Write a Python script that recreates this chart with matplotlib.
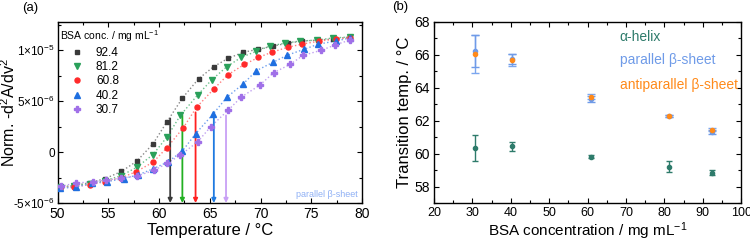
import matplotlib
matplotlib.use('Agg')
import matplotlib.pyplot as plt
from matplotlib.ticker import MultipleLocator, FixedLocator

plt.rcParams['font.family'] = ['Liberation Sans', 'DejaVu Sans']
plt.rcParams['mathtext.fontset'] = 'custom'
plt.rcParams['mathtext.rm'] = 'Liberation Sans'
plt.rcParams['mathtext.it'] = 'Liberation Sans:italic'
plt.rcParams['mathtext.default'] = 'regular'

# ---- panel (a): normalised 2nd derivative vs temperature (values in 1e-6) ----
conc_labels = ['92.4', '81.2', '60.8', '40.2', '30.7']

t_924 = [50.2, 51.6, 53.2, 54.7, 56.3, 57.8, 59.4, 60.8, 62.3, 63.9, 65.4, 66.8, 68.3, 69.8, 71.2, 72.7, 74.1, 75.7, 77.1, 78.8]
d_924 = [-3.5, -3.3, -3.0, -2.6, -1.9, -0.9, 0.8, 3.0, 5.3, 7.2, 8.4, 9.2, 9.8, 10.1, 10.4, 10.7, 10.9, 11.0, 11.1, 11.3]

t_812 = [50.2, 51.6, 53.2, 54.7, 56.3, 57.8, 59.4, 60.8, 62.1, 63.8, 65.2, 66.7, 68.1, 69.6, 70.9, 72.4, 73.9, 75.6, 77.1, 78.8]
d_812 = [-3.4, -3.3, -3.1, -2.8, -2.3, -1.5, -0.25, 1.5, 3.6, 5.6, 7.1, 8.4, 9.3, 9.9, 10.4, 10.7, 10.9, 11.0, 11.2, 11.3]

t_608 = [50.2, 51.6, 53.2, 54.7, 56.3, 57.7, 59.4, 60.8, 62.4, 63.7, 65.4, 66.8, 68.4, 69.8, 71.1, 72.7, 74.1, 75.8, 77.4, 78.8]
d_608 = [-3.5, -3.4, -3.2, -2.9, -2.5, -1.95, -1.0, 0.45, 2.4, 4.4, 6.2, 7.6, 8.6, 9.3, 9.8, 10.3, 10.6, 10.9, 11.1, 11.2]

t_402 = [50.2, 51.8, 53.4, 54.9, 56.5, 57.9, 59.4, 60.9, 62.3, 63.6, 65.3, 66.7, 68.3, 69.6, 71.2, 72.6, 74.3, 75.7, 77.4, 78.8]
d_402 = [-3.55, -3.45, -3.05, -2.9, -2.6, -2.25, -1.65, -0.95, 0.1, 1.8, 3.7, 5.4, 6.7, 8.0, 8.8, 9.5, 10.1, 10.6, 10.9, 11.2]

t_307 = [50.3, 51.8, 53.5, 54.8, 56.3, 57.8, 59.5, 60.8, 62.1, 63.8, 65.1, 66.8, 68.1, 69.9, 71.3, 72.9, 74.2, 76.0, 77.3, 78.8]
d_307 = [-3.35, -3.05, -2.9, -2.75, -2.55, -2.35, -1.8, -1.1, -0.3, 1.0, 2.5, 4.1, 5.4, 6.55, 7.8, 8.6, 9.5, 10.0, 10.5, 11.0]

# transition temperatures (arrows) and arrow start heights (1e-6)
tm_a = [61.1, 62.3, 63.6, 65.4, 66.6]
tm_top = [3.3, 3.6, 3.9, 3.8, 3.6]

# ---- panel (b): transition temperature vs BSA concentration ----
bsa = [30.7, 40.2, 60.8, 81.2, 92.4]
helix = [60.33, 60.43, 59.82, 59.21, 58.85]
helix_err = [0.78, 0.27, 0.08, 0.31, 0.15]
par = [66.22, 65.75, 63.32, 62.29, 61.33]
par_err = [0.95, 0.30, 0.20, 0.08, 0.12]
anti = [66.02, 65.68, 63.45, 62.29, 61.44]
anti_err = [1.15, 0.35, 0.15, 0.06, 0.10]

fig = plt.figure(figsize=(7.5, 2.44), dpi=100)
ax1 = fig.add_axes([0.0767, 0.168, 0.4060, 0.743])
ax2 = fig.add_axes([0.5788, 0.168, 0.4093, 0.743])

series = [
    (t_924, d_924, 's', '#3a3a3a', '#888888', 3.2),
    (t_812, d_812, 'v', '#2aa05a', '#6cc08c', 3.8),
    (t_608, d_608, 'o', '#ff2a2a', '#ff8080', 3.6),
    (t_402, d_402, '^', '#1f6fe0', '#6fa0ee', 3.8),
    (t_307, d_307, 'P', '#a070e8', '#c0a0f0', 3.8),
]
arrow_cols = ['#3a3a3a', '#22b022', '#ff2020', '#1f7ae0', '#c8a0f5']

for (t, d, m, c, lc, ms), lab in zip(series, conc_labels):
    ax1.plot(t, [v * 1e-6 for v in d], ls=':', lw=1.0, color=lc, zorder=1)
    ax1.plot(t, [v * 1e-6 for v in d], ls='none', marker=m, ms=ms, color=c,
             mec=c, label=lab, zorder=3)

for x, top, c in zip(tm_a, tm_top, arrow_cols):
    ax1.annotate('', xy=(x, -5e-6), xytext=(x, top * 1e-6),
                 arrowprops=dict(arrowstyle='-|>', color=c, lw=1.3,
                                 mutation_scale=6, shrinkA=0, shrinkB=0),
                 zorder=2)

ax1.set_xlim(50, 80)
ax1.set_ylim(-5e-6, 1.28e-5)
ax1.xaxis.set_major_locator(MultipleLocator(5))
ax1.xaxis.set_minor_locator(MultipleLocator(2.5))
ax1.yaxis.set_major_locator(FixedLocator([-5e-6, 0, 5e-6, 1e-5]))
ax1.yaxis.set_minor_locator(MultipleLocator(2.5e-6))
ax1.set_yticklabels(['-5×10$^{-6}$', '0', '5×10$^{-6}$', '1×10$^{-5}$'])
ax1.set_xlabel('Temperature / °C', fontsize=12, labelpad=1)
ax1.set_ylabel('Norm. -d$^2$A/dv$^2$', fontsize=11.5)
ax1.yaxis.set_label_coords(-0.13, 0.5)
ax1.text(76.5, -4.15e-6, 'parallel β-sheet', color='#8fb0f5', fontsize=6.5,
         ha='center', va='center')
leg = ax1.legend(loc='upper left', frameon=False, fontsize=8.5,
                 title='BSA conc. / mg mL$^{-1}$', title_fontsize=7.5,
                 handletextpad=0.15, labelspacing=0.2, borderaxespad=0.0,
                 borderpad=0.2, handlelength=2.9, bbox_to_anchor=(0.0, 0.975))
leg._legend_box.align = 'left'
fig.text(22 / 750, 1 - 8 / 244, '(a)', fontsize=9.5, ha='left', va='center')

ax2.errorbar(bsa, helix, yerr=helix_err, fmt='o', ms=3, color='#2e7b6b',
             ecolor='#2e7b6b', elinewidth=1, capsize=2.5, capthick=1)
ax2.errorbar(bsa, anti, yerr=anti_err, fmt='none', ecolor='#7ba6ef',
             elinewidth=1, capsize=3, capthick=1)
ax2.errorbar(bsa, par, yerr=par_err, fmt='o', ms=3, color='#6f9be8',
             ecolor='#6f9be8', elinewidth=1, capsize=3, capthick=1)
ax2.plot(bsa, anti, 'o', ms=3, color='#ff8a1a', ls='none', zorder=4)

ax2.set_xlim(20, 100)
ax2.set_ylim(57, 68)
ax2.xaxis.set_major_locator(MultipleLocator(10))
ax2.xaxis.set_minor_locator(MultipleLocator(5))
ax2.yaxis.set_major_locator(MultipleLocator(2))
ax2.yaxis.set_minor_locator(MultipleLocator(1))
ax2.set_xlabel('BSA concentration / mg mL$^{-1}$', fontsize=11, labelpad=1)
ax2.set_ylabel('Transition temp. / °C', fontsize=12, labelpad=2)
ax2.text(0.604, 0.915, 'α-helix', transform=ax2.transAxes, color='#2e7b6b',
         fontsize=10, va='center')
ax2.text(0.604, 0.79, 'parallel β-sheet', transform=ax2.transAxes,
         color='#6f9be8', fontsize=10, va='center')
ax2.text(0.604, 0.65, 'antiparallel β-sheet', transform=ax2.transAxes,
         color='#ff8a1a', fontsize=10, va='center')
fig.text(392 / 750, 1 - 7 / 244, '(b)', fontsize=9.5, ha='left', va='center')

for ax in (ax1, ax2):
    ax.tick_params(which='both', direction='in', top=True, right=True,
                   labelsize=10, pad=3)
    ax.tick_params(which='major', length=3.5, width=0.8)
    ax.tick_params(which='minor', length=2.5, width=0.8)
    for s in ax.spines.values():
        s.set_linewidth(1.0)
ax1.tick_params(axis='y', labelsize=8.5, pad=2)
ax2.tick_params(axis='x', labelsize=9)

fig.savefig('out.png', dpi=100)
